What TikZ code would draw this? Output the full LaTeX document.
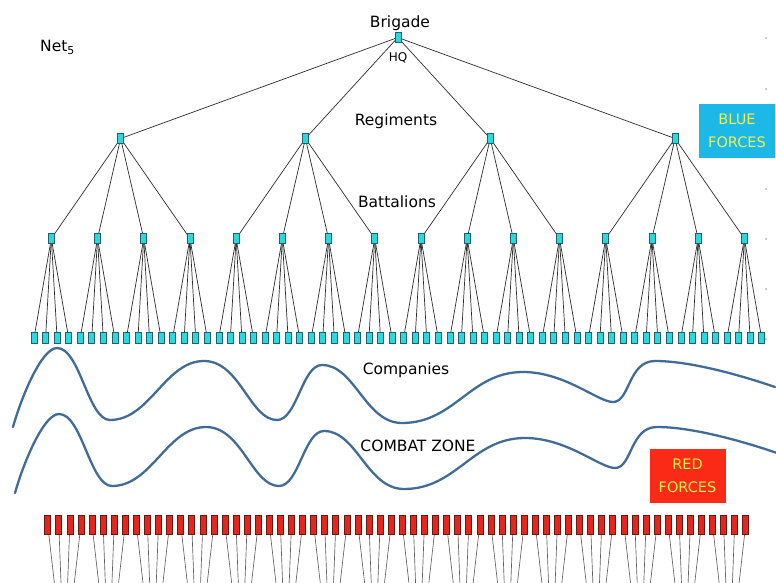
\documentclass[tikz,border=0pt]{standalone}
\usepackage{fontspec}
\setmainfont{DejaVu Sans}

\definecolor{nodecyan}{RGB}{40,218,224}
\definecolor{nodeedge}{RGB}{35,95,105}
\definecolor{redunit}{RGB}{228,38,28}
\definecolor{rededge}{RGB}{105,25,20}
\definecolor{wavecol}{RGB}{66,108,152}
\definecolor{bluebox}{RGB}{28,184,232}
\definecolor{redbox}{RGB}{250,42,22}
\definecolor{boxtext}{RGB}{240,240,80}
\definecolor{linkgray}{RGB}{45,45,45}

\pgfdeclarelayer{bg}
\pgfsetlayers{bg,main}

\begin{document}
\begin{tikzpicture}[x=1pt,y=-1pt,
  blueunit/.style={draw=nodeedge, fill=nodecyan, line width=0.6pt,
    minimum width=6pt, minimum height=10.5pt, inner sep=0pt},
  redunitbox/.style={draw=rededge, fill=redunit, line width=0.6pt,
    minimum width=6pt, minimum height=19pt, inner sep=0pt},
  link/.style={draw=linkgray, line width=0.7pt},
  redlink/.style={draw=gray!75!black, line width=0.65pt},
  levellabel/.style={font=\fontsize{15.5}{18}\selectfont, inner sep=0pt, anchor=base},
  forcebox/.style={text=boxtext, font=\fontsize{14.5}{23}\selectfont, align=center,
    minimum width=76pt, minimum height=54pt, inner sep=0pt},
  wavepath/.style={draw=wavecol, line width=2.3pt, line cap=round},
  tickdot/.style={fill=gray!80, circle, inner sep=0pt, minimum size=1.8pt}
]
\useasboundingbox (0,0) rectangle (776,583);

% ---- Blue forces: brigade -> regiments -> battalions -> companies
\node[blueunit] (hq) at (397.8,37.5) {};
\foreach \i in {1,...,4} {
  \pgfmathsetmacro\rx{34+11.55*(16*\i-8.5)}
  \node[blueunit] (reg\i) at (\rx,138.5) {};
}
\foreach \j in {1,...,16} {
  \pgfmathsetmacro\bx{34+11.55*(4*\j-2.5)}
  \node[blueunit] (bat\j) at (\bx,238.5) {};
}
\foreach \k in {1,...,64} {
  \pgfmathsetmacro\cx{34+11.55*(\k-1)}
  \node[blueunit] (co\k) at (\cx,338) {};
}

% ---- Red forces: company row, its parents lie below the page
\foreach \k in {1,...,64} {
  \pgfmathsetmacro\qx{47.7+11.08*(\k-1)}
  \node[redunitbox] (red\k) at (\qx,524.5) {};
}
\foreach \j in {1,...,16} {
  \pgfmathsetmacro\px{47.7+11.08*(4*\j-2.5)}
  \coordinate (redroot\j) at (\px,670);
}

\begin{pgfonlayer}{bg}
  \fill[white] (0,0) rectangle (776,583);
  \foreach \i in {1,...,4} \draw[link] (hq.center) -- (reg\i.center);
  \foreach \j in {1,...,16} {
    \pgfmathtruncatemacro\p{ceil(\j/4)}
    \draw[link] (reg\p.center) -- (bat\j.center);
  }
  \foreach \k in {1,...,64} {
    \pgfmathtruncatemacro\p{ceil(\k/4)}
    \draw[link] (bat\p.center) -- (co\k.center);
  }
  \begin{scope}
    \clip (0,0) rectangle (776,583);
    \foreach \k in {1,...,64} {
      \pgfmathtruncatemacro\p{ceil(\k/4)}
      \draw[redlink] (red\k.center) -- (redroot\p);
    }
  \end{scope}
\end{pgfonlayer}

% ---- Front lines of the combat zone
\foreach \dx/\dy in {0/0, 2/66} {
  \draw[wavepath, shift={(\dx,\dy)}] (13,427)
    .. controls (22,395) and (42,348) .. (57,348)
    .. controls (80,348) and (88,420) .. (110,420)
    .. controls (150,420) and (165,361) .. (204,361)
    .. controls (240,361) and (250,420) .. (277,420)
    .. controls (297,420) and (302,365) .. (322,365)
    .. controls (355,365) and (365,423) .. (402,423)
    .. controls (455,423) and (470,372) .. (523,372)
    .. controls (565,372) and (598,402) .. (613,402)
    .. controls (630,402) and (628,361) .. (655,361)
    .. controls (690,361) and (740,375) .. (775,387);
}

% ---- Labels
\node[levellabel, anchor=base west] (netlabel) at (40,52) {Net\textsubscript{5}};
\node[levellabel] (brigade) at (400,28) {Brigade};
\node[inner sep=0pt, anchor=base, font=\fontsize{12}{14}\selectfont] (hqlabel) at (398,62) {HQ};
\node[levellabel] (regiments) at (396,126) {Regiments};
\node[levellabel] (battalions) at (397,207) {Battalions};
\node[levellabel] (companies) at (406,374) {Companies};
\node[levellabel] (combat) at (418,451) {COMBAT ZONE};

\node[forcebox, fill=bluebox] (blueforces) at (737,131) {BLUE\\FORCES};
\node[forcebox, fill=redbox] (redforces) at (687.5,475.5) {RED\\FORCES};

% ---- Small marks along the right margin
\foreach \y in {38,89,189,239,289,339} \node[tickdot] (tick\y) at (766,\y) {};
\end{tikzpicture}
\end{document}
